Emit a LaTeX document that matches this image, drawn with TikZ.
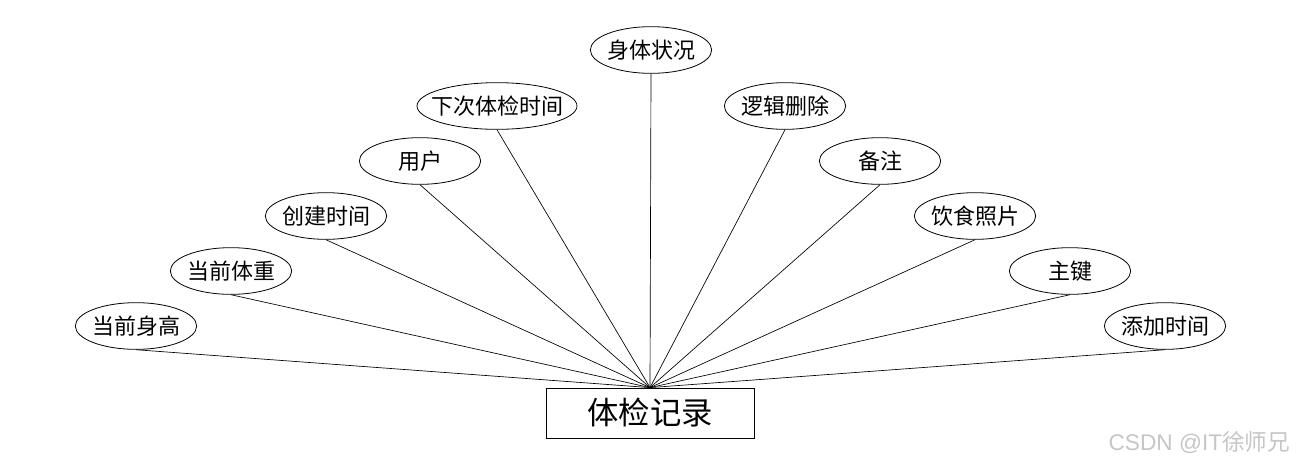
\documentclass[tikz,border=0pt]{standalone}
\usepackage{fontspec}
\setmainfont{Noto Sans CJK SC}
\newfontfamily\wmfont{Liberation Sans}
\usetikzlibrary{shapes.geometric}
\newcommand{\zbox}[1]{\makebox[0pt][c]{#1}}
\begin{document}
\begin{tikzpicture}[x=0.75pt,y=-0.75pt,
  attr/.style={draw, ellipse, line width=0.6pt, minimum width=91pt, minimum height=35pt, inner sep=0pt, font=\fontsize{16.5pt}{18pt}\selectfont},
  entity/.style={draw, rectangle, line width=0.6pt, minimum width=156pt, minimum height=37.5pt, inner sep=0pt, font=\fontsize{23.5pt}{26pt}\selectfont},
  link/.style={line width=0.5pt}]
\useasboundingbox (0,0) rectangle (1300,468);
\fill[white] (0,0) rectangle (1300,468);
\node[entity] (r) at (650,413) {体检记录};
\node[attr] (a1) at (651,50) {\zbox{身体状况}};
\node[attr, minimum width=120pt] (a2) at (497,106) {\zbox{下次体检时间}};
\node[attr] (a3) at (785,106) {\zbox{逻辑删除}};
\node[attr] (a4) at (420,161) {\zbox{用户}};
\node[attr] (a5) at (880,161) {\zbox{备注}};
\node[attr] (a6) at (326,216) {\zbox{创建时间}};
\node[attr] (a7) at (975,216) {\zbox{饮食照片}};
\node[attr] (a8) at (231,271) {\zbox{当前体重}};
\node[attr] (a9) at (1070,271) {\zbox{主键}};
\node[attr] (a10) at (136,326) {\zbox{当前身高}};
\node[attr] (a11) at (1165,326) {\zbox{添加时间}};
\foreach \i in {1,...,11} \draw[link] (a\i.south) -- (r.north);
\node[text=gray!45, font=\fontsize{17pt}{19pt}\selectfont, anchor=east] (wm) at (1295,443) {{\wmfont CSDN @IT}徐师兄};
\end{tikzpicture}
\end{document}
